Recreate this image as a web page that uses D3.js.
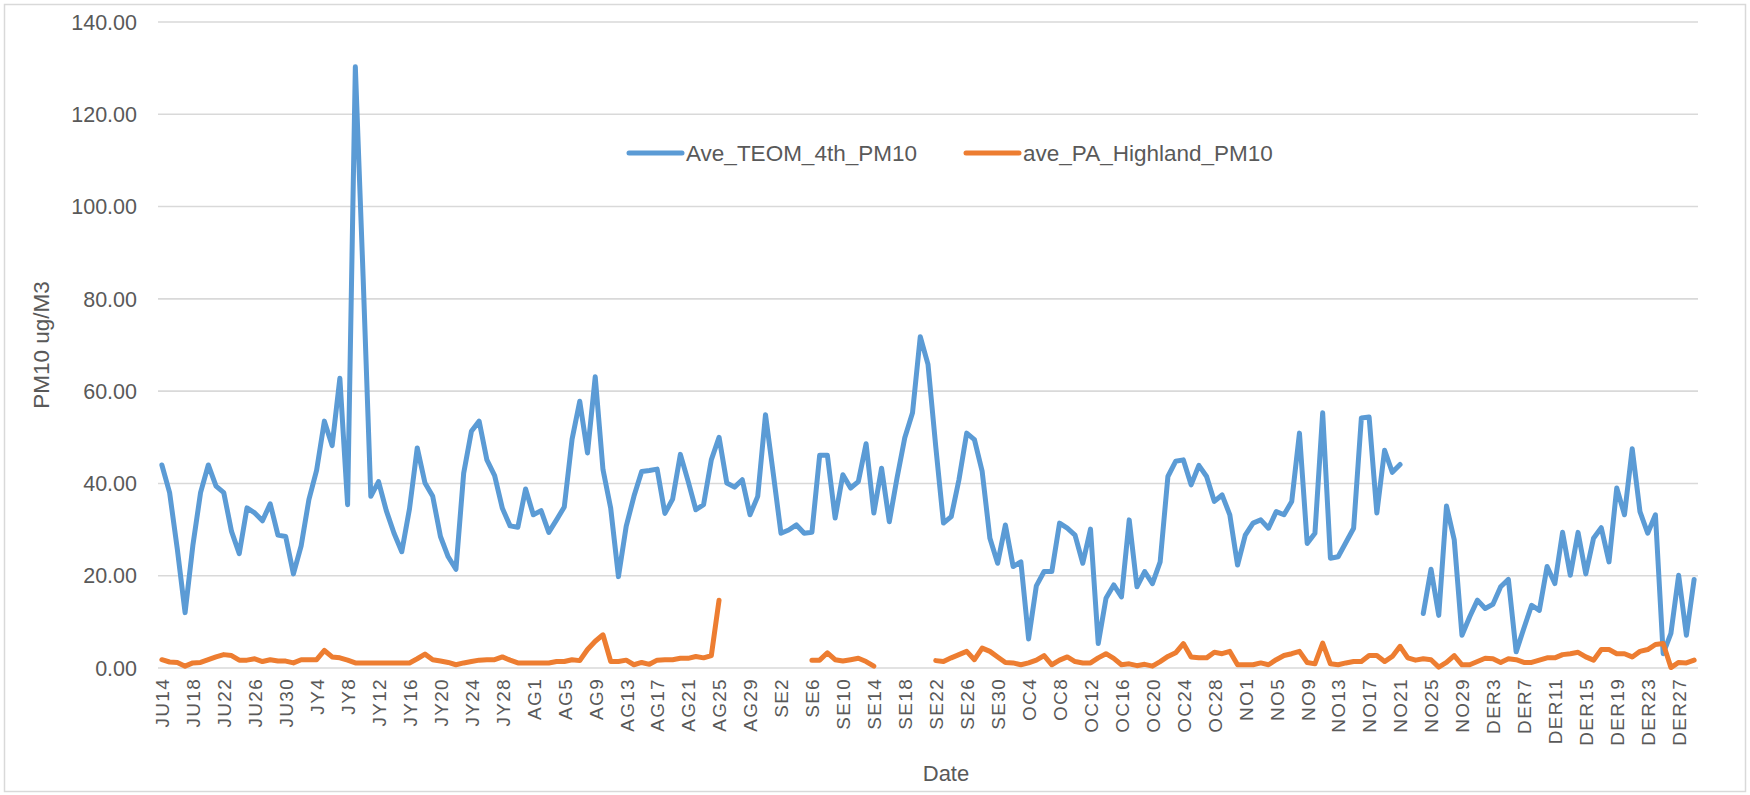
<!DOCTYPE html>
<html><head><meta charset="utf-8">
<script src="https://cdn.jsdelivr.net/npm/d3@7"></script>
<style>
body{margin:0;background:#fff;}
svg{display:block;}
text{font-family:"Liberation Sans",Arial,sans-serif;fill:#595959;}
</style>
</head><body>
<svg id="c" width="1750" height="795"></svg>
<script>
// ---- data ----
const months = [["JU",14,30],["JY",1,31],["AG",1,31],["SE",1,30],["OC",1,31],["NO",1,30],["DER",1,29]];
const categories = [];
months.forEach(([p,a,b]) => { for (let d = a; d <= b; d++) categories.push(p + d); });

const tickLabels = ["JU14","JU18","JU22","JU26","JU30","JY4","JY8","JY12","JY16","JY20","JY24","JY28",
  "AG1","AG5","AG9","AG13","AG17","AG21","AG25","AG29","SE2","SE6","SE10","SE14","SE18","SE22","SE26","SE30",
  "OC4","OC8","OC12","OC16","OC20","OC24","OC28","NO1","NO5","NO9","NO13","NO17","NO21","NO25","NO29",
  "DER3","DER7","DER11","DER15","DER19","DER23","DER27"];

const yTicks = [0,20,40,60,80,100,120,140];

const teom = [
 44.0,38.0,25.7,12.0,26.5,38.0,44.0,39.4,38.0,29.6,24.8,34.7,33.6,31.9,35.6,28.8,28.5,20.4,26.5,36.5,
 42.9,53.5,48.2,62.8,35.4,130.3,85.0,37.2,40.4,34.1,29.2,25.2,34.5,47.7,40.1,37.2,28.5,24.1,21.4,42.2,
 51.3,53.5,45.1,41.7,34.6,30.8,30.5,38.8,33.2,34.1,29.4,32.1,34.9,49.5,57.8,46.6,63.1,43.0,34.6,19.8,
 30.7,37.2,42.6,42.8,43.1,33.5,36.6,46.3,40.5,34.3,35.4,45.1,50.0,40.1,39.2,40.8,33.2,37.2,54.9,42.2,
 29.2,29.9,31.0,29.2,29.4,46.1,46.1,32.5,41.9,39.0,40.4,48.6,33.6,43.3,31.7,41.2,49.9,55.3,71.8,65.8,
 48.0,31.4,32.8,40.8,50.9,49.5,42.6,28.1,22.7,31.0,22.0,23.0,6.3,17.8,20.9,20.9,31.4,30.3,28.8,22.7,
 30.1,5.3,15.1,18.0,15.4,32.1,17.6,20.9,18.3,23.0,41.5,44.8,45.1,39.7,43.9,41.5,36.1,37.5,33.2,22.3,
 28.8,31.4,32.1,30.3,33.9,33.2,36.1,50.9,27.0,29.2,55.3,23.8,24.1,27.2,30.3,54.2,54.4,33.6,47.2,42.4,
 44.1,null,null,11.8,21.4,11.4,35.1,27.8,7.1,11.1,14.7,12.9,13.8,17.6,19.2,3.5,8.6,13.6,12.5,22.0,
 18.3,29.4,20.1,29.4,20.4,28.1,30.4,23.0,39.0,33.2,47.5,33.9,29.2,33.2,3.1,7.5,20.1,7.1,19.2
];

const pa = [
 1.8,1.3,1.2,0.4,1.1,1.2,1.8,2.4,2.9,2.7,1.7,1.7,2.0,1.4,1.8,1.5,1.5,1.1,1.8,1.8,
 1.8,3.8,2.4,2.2,1.7,1.1,1.1,1.1,1.1,1.1,1.1,1.1,1.1,2.0,3.0,1.8,1.5,1.2,0.7,1.1,
 1.4,1.7,1.8,1.8,2.4,1.7,1.1,1.1,1.1,1.1,1.1,1.4,1.4,1.8,1.6,4.0,5.8,7.2,1.4,1.4,
 1.7,0.7,1.2,0.8,1.7,1.8,1.8,2.1,2.1,2.5,2.2,2.7,14.7,null,null,null,null,null,null,null,
 null,null,null,null,1.7,1.7,3.3,1.8,1.5,1.8,2.1,1.4,0.4,null,null,null,null,null,null,null,
 1.6,1.4,2.2,2.9,3.6,1.8,4.3,3.6,2.4,1.2,1.1,0.7,1.1,1.7,2.7,0.7,1.7,2.4,1.4,1.1,
 1.1,2.2,3.1,2.1,0.7,0.9,0.5,0.8,0.4,1.4,2.5,3.3,5.3,2.4,2.2,2.2,3.4,3.1,3.6,0.7,
 0.7,0.7,1.1,0.7,1.8,2.7,3.1,3.6,1.2,0.9,5.4,0.9,0.7,1.1,1.4,1.4,2.7,2.7,1.4,2.5,
 4.7,2.2,1.7,2.0,1.8,0.2,1.2,2.7,0.7,0.7,1.4,2.1,2.0,1.2,2.0,1.8,1.2,1.2,1.7,2.2,
 2.2,2.9,3.1,3.4,2.4,1.7,4.0,4.0,3.1,3.1,2.4,3.6,4.0,5.1,5.3,0.1,1.2,1.1,1.7
];

const seriesNames = ["Ave_TEOM_4th_PM10","ave_PA_Highland_PM10"];
const seriesColors = ["#5b9bd5","#ed7d31"];
const yTitle = "PM10 ug/M3";
const xTitle = "Date";

// ---- drawing ----
const svg = d3.select("#c");
const W = 1750, H = 795;
const plotL = 158, plotR = 1698, plotT = 22, plotB = 668;

svg.append("rect").attr("x",0).attr("y",0).attr("width",W).attr("height",H).attr("fill","#fff");
svg.append("rect").attr("x",4.5).attr("y",4.5).attr("width",W-9).attr("height",H-8)
  .attr("fill","none").attr("stroke","#d9d9d9").attr("stroke-width",1.5);

const x = d3.scalePoint().domain(categories).range([plotL,plotR]).padding(0.5);
const y = d3.scaleLinear().domain([0,140]).range([plotB,plotT]);

// gridlines
svg.append("g").selectAll("line").data(yTicks).join("line")
  .attr("x1",plotL).attr("x2",plotR)
  .attr("y1",d=>y(d)).attr("y2",d=>y(d))
  .attr("stroke","#d9d9d9").attr("stroke-width",1.6);

// y labels
svg.append("g").selectAll("text").data(yTicks).join("text")
  .attr("x",137).attr("y",d=>y(d)).attr("dy","0.36em")
  .attr("text-anchor","end").attr("font-size",21.5)
  .text(d=>d3.format(".2f")(d));

// x axis
const xAxis = svg.append("g").attr("transform",`translate(0,${plotB})`)
  .call(d3.axisBottom(x).tickValues(tickLabels).tickSize(0));
xAxis.select(".domain").remove();
xAxis.selectAll("text")
  .attr("transform","rotate(-90)")
  .attr("x",-10).attr("y",0).attr("dy","0.36em")
  .style("text-anchor","end")
  .attr("font-size",19)
  .style("letter-spacing","1.3px")
  .style("font-family","'Liberation Sans',Arial,sans-serif")
  .attr("fill","#595959");

// lines
const line = d3.line()
  .defined(d => d.v != null)
  .x(d => x(d.c)).y(d => y(d.v));

[teom, pa].forEach((vals, k) => {
  const data = categories.map((c,i) => ({c, v: vals[i]}));
  svg.append("path").datum(data)
    .attr("d", line)
    .attr("fill","none")
    .attr("stroke", seriesColors[k])
    .attr("stroke-width",5)
    .attr("stroke-linejoin","round")
    .attr("stroke-linecap","round");
});

// axis titles
svg.append("text").attr("transform","translate(41,345) rotate(-90)")
  .attr("text-anchor","middle").attr("dy","0.36em").attr("font-size",22.5).text(yTitle);
svg.append("text").attr("x",946).attr("y",773).attr("dy","0.36em")
  .attr("text-anchor","middle").attr("font-size",22).text(xTitle);

// legend
const legX = [627, 964];
seriesNames.forEach((n,k) => {
  const g = svg.append("g").attr("transform",`translate(${legX[k]},153)`);
  g.append("line").attr("x1",2).attr("x2",55).attr("y1",0).attr("y2",0)
    .attr("stroke",seriesColors[k]).attr("stroke-width",5).attr("stroke-linecap","round");
  g.append("text").attr("x",59).attr("y",0).attr("dy","0.36em").attr("font-size",22.5).text(n);
});
</script>
</body></html>
